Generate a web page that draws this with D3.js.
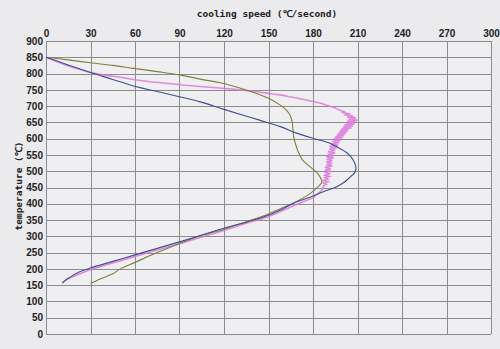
<!DOCTYPE html>
<html><head><meta charset="utf-8">
<script src="https://cdn.jsdelivr.net/npm/d3@7"></script>
<style>
html,body{margin:0;padding:0;background:#ebebed;}
svg{display:block;}
</style></head>
<body>
<svg id="chart" width="500" height="349"></svg>
<script>
const xTicks = [0,30,60,90,120,150,180,210,240,270,300];
const yTicks = [0,50,100,150,200,250,300,350,400,450,500,550,600,650,700,750,800,850,900];

const blueTemp  = [850,828,803,782,762,745,729,713,690,672,657,637,617,600,587,570,556,535,510,495,482,466,452,437,420,406,385,365,345,325,304,283,263,243,223,203,190,181,168,156];
const blueSpeed = [0,14,30,45,59,75,90,104,120,133,144,158,169,181,191,198,203,207,209,208,205,201,196,187,178,169,160,150,136,120,105,90,75,60,45,30,22,18.5,14,11];

const oliveTemp  = [850,842,833,825,816,806,796,783,770,755,739,722,703,688,673,650,627,605,587,560,534,514,494,480,467,455,442,425,405,385,365,345,322,300,278,250,220,200,185,170,156];
const oliveSpeed = [0,15,30,45,59,75,90,104,119,131,142,151,158,162,164.5,166,166.5,167,168,170,173,178,183,185,186,184,181,176,168,158,148,135,120,103,90,75,60,50,45,37,30];

const pinkTemp  = [850,825,803,796,790,782,775,770,765,760,755,750,744,740,737,733,729,725,722,718,714,711,708,704,700,697,694,690,686,683,680,677,673,670,667,664,660,657,654,651,648,645,642,639,636,633,630,627,624,621,618,615,612,609,606,603,600,596,592,588,584,580,576,572,568,564,560,556,552,548,544,540,536,532,528,524,520,516,512,508,504,500,496,492,488,484,480,476,472,468,464,460,455,450,442,430,418,400,380,360,340,318,298,277,258,238,218,198,180,168,158];
const pinkSpeed = [0,14,30,38,48,59,70,81,92,104,119,131,142,149,153,160,164,169,172,176,180,183,186,188,191,193,195,197,199,201,200,204,202,207,203,209,204,210,203,209,202,208,201,207,200,206,199,204,198,203,197,202,196,201,195,200,194,199,193,198,192,197,191,196,191,195,190,195,190,194,189,194,189,193,189,193,189,193,188,192,188,192,188,191,188,191,188,190,187,190,187,189,187,187,186,183,180,170,160,150,135,120,105,90,75,60,45,30,20,14,11];

const svg = d3.select("#chart");
const L = 46, R = 491, T = 41, B = 334;
const x = d3.scaleLinear().domain([0,300]).range([L,R]);
const y = d3.scaleLinear().domain([0,900]).range([B,T]);

svg.append("rect").attr("x",L).attr("y",T).attr("width",R-L).attr("height",B-T).attr("fill","#efeff1");

// grid
const grid = svg.append("g").attr("stroke","#8c8c8e").attr("stroke-width",1);
grid.selectAll("line.v").data(xTicks).join("line")
  .attr("x1",d=>Math.round(x(d))+0.5).attr("x2",d=>Math.round(x(d))+0.5).attr("y1",T).attr("y2",B);
grid.selectAll("line.h").data(yTicks).join("line")
  .attr("y1",d=>Math.round(y(d))+0.5).attr("y2",d=>Math.round(y(d))+0.5).attr("x1",L).attr("x2",R);

// axes (labels only)
const xAxis = d3.axisTop(x).tickValues(xTicks).tickSize(0).tickPadding(0);
const gx = svg.append("g").attr("transform",`translate(0,${T-4})`).call(xAxis);
gx.select(".domain").remove();
gx.selectAll("text").attr("font-family","'Liberation Sans',Arial,sans-serif").attr("font-weight","bold").attr("font-size","10px").attr("fill","#222");

const yAxis = d3.axisLeft(y).tickValues(yTicks).tickSize(0).tickPadding(3);
const gy = svg.append("g").attr("transform",`translate(${L},0)`).call(yAxis);
gy.select(".domain").remove();
gy.selectAll("text").attr("font-family","'Liberation Sans',Arial,sans-serif").attr("font-weight","bold").attr("font-size","10px").attr("fill","#222");

// titles
svg.append("text").attr("x",267).attr("y",17).attr("text-anchor","middle")
  .attr("font-family","'DejaVu Sans Mono',monospace").attr("font-weight","bold").attr("font-size","9.5px").attr("fill","#222")
  .text("cooling speed (℃/second)");
svg.append("text").attr("transform","translate(22,186) rotate(-90)").attr("text-anchor","middle")
  .attr("font-family","'DejaVu Sans Mono',monospace").attr("font-weight","bold").attr("font-size","9.5px").attr("fill","#222")
  .text("temperature (℃)");

// curves
const mk = (sp,tp)=>sp.map((s,i)=>[s,tp[i]]);
const smooth = d3.line().x(d=>x(d[0])).y(d=>y(d[1])).curve(d3.curveCatmullRom);
const jag = d3.line().x(d=>x(d[0])).y(d=>y(d[1]));

svg.append("path").datum(mk(pinkSpeed,pinkTemp)).attr("d",jag).attr("fill","none")
  .attr("stroke","#dc78dc").attr("stroke-width",1.6).attr("stroke-opacity",0.85);
svg.append("path").datum(mk(oliveSpeed,oliveTemp)).attr("d",smooth).attr("fill","none")
  .attr("stroke","#7f7f38").attr("stroke-width",1.1);
svg.append("path").datum(mk(blueSpeed,blueTemp)).attr("d",smooth).attr("fill","none")
  .attr("stroke","#3e4f92").attr("stroke-width",1.1);
</script>
</body></html>
